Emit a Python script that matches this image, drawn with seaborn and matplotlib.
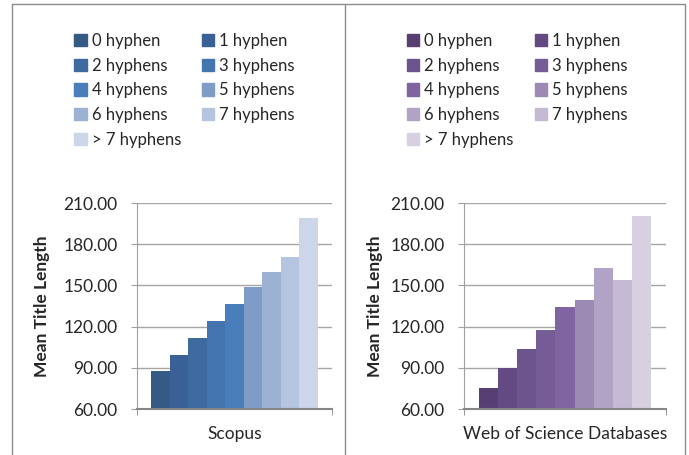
import numpy as np
import pandas as pd
import matplotlib
matplotlib.use("Agg")
import matplotlib.pyplot as plt
from matplotlib.lines import Line2D
import seaborn as sns

# --- dane ---
hyphen_labels = ["0 hyphen", "1 hyphen", "2 hyphens", "3 hyphens", "4 hyphens",
                 "5 hyphens", "6 hyphens", "7 hyphens", "> 7 hyphens"]
scopus_values = [87.9, 99.6, 111.9, 124.1, 136.5, 148.8, 159.8, 170.7, 199.1]
wos_values = [75.3, 90.1, 103.7, 117.5, 134.3, 139.4, 162.7, 153.9, 200.5]
y_ticks = [60, 90, 120, 150, 180, 210]

blue_palette = ["#355A86", "#3A6196", "#3E6AA0", "#4575AE", "#4A7EBB",
                "#7E9CC6", "#9DB1D3", "#B5C4DF", "#CDD6E8"]
purple_palette = ["#573F74", "#634A82", "#6C548D", "#765C96", "#8064A2",
                  "#9C8AB5", "#B1A3C6", "#C4BAD3", "#D6D0E1"]

sns.set_style("white")
plt.rcParams["font.family"] = ["Lato", "DejaVu Sans"]

W, H = 689, 455
fig = plt.figure(figsize=(W / 100, H / 100), dpi=100)


def px(x0, y0, x1, y1):
    # prostokat w pikselach -> wspolrzedne figury
    return [x0 / W, 1 - y1 / H, (x1 - x0) / W, (y1 - y0) / H]


def panel(rect, db_name, values, palette, ylab_x, legend_x):
    df = pd.DataFrame({"db": db_name, "hyphens": hyphen_labels, "value": values})
    ax = fig.add_axes(rect)
    sns.barplot(data=df, x="db", y="value", hue="hyphens", palette=palette,
                width=0.856, gap=0, ax=ax, legend=False, zorder=2,
                linewidth=0, edgecolor="none", saturation=1)
    ax.set_xlim(-0.5, 0.5)
    ax.set_ylim(60, 210)
    ax.set_yticks(y_ticks)
    ax.set_yticklabels([f"{v:.2f}" for v in y_ticks], fontsize=12.5)
    ax.yaxis.grid(True, color="#A6A6A6", linewidth=1.0, zorder=0)
    ax.set_axisbelow(True)
    for side in ["top", "right"]:
        ax.spines[side].set_visible(False)
    ax.spines["left"].set_color("#A0A0A0")
    ax.spines["bottom"].set_color("#868686")
    ax.spines["bottom"].set_linewidth(1.5)
    ax.tick_params(axis="y", length=4, color="#A0A0A0", pad=10, left=True)
    ax.tick_params(axis="x", which="major", length=0, pad=12, labelsize=12.5)
    ax.set_xticks([-0.5, 0.5], minor=True)
    ax.tick_params(axis="x", which="minor", length=4, color="#868686", bottom=True)
    ax.set_xlabel("")
    ax.set_ylabel("Mean Title Length", fontsize=12.5, fontweight="bold")
    ax.yaxis.set_label_coords(ylab_x, 0.5)

    handles = [plt.Rectangle((0, 0), 1, 1, color=c) for c in palette]
    order = [0, 2, 4, 6, 8, 1, 3, 5, 7]
    fig.legend([handles[i] for i in order], [hyphen_labels[i] for i in order],
               ncol=2, frameon=False, loc="upper left",
               bbox_to_anchor=(legend_x / W, 1 - 33 / H),
               fontsize=12, handlelength=0.75, handleheight=0.75,
               handletextpad=0.3, columnspacing=1.25, labelspacing=0.52,
               borderaxespad=0, borderpad=0)
    return ax


panel(px(137, 203, 332, 409), "Scopus", scopus_values, blue_palette, -0.446, 74)
panel(px(464, 203, 666, 409), "Web of Science Databases", wos_values, purple_palette, -0.40, 407)

# ramki paneli
frame = "#8C8C8C"
for xs, ys in [([12, 12], [4, H]), ([12, 685], [4, 4]), ([345, 345], [4, H]), ([685, 685], [4, H])]:
    fig.add_artist(Line2D([x / W for x in xs], [1 - y / H for y in ys],
                          color=frame, linewidth=1.0))

fig.savefig("out.png", dpi=100)
